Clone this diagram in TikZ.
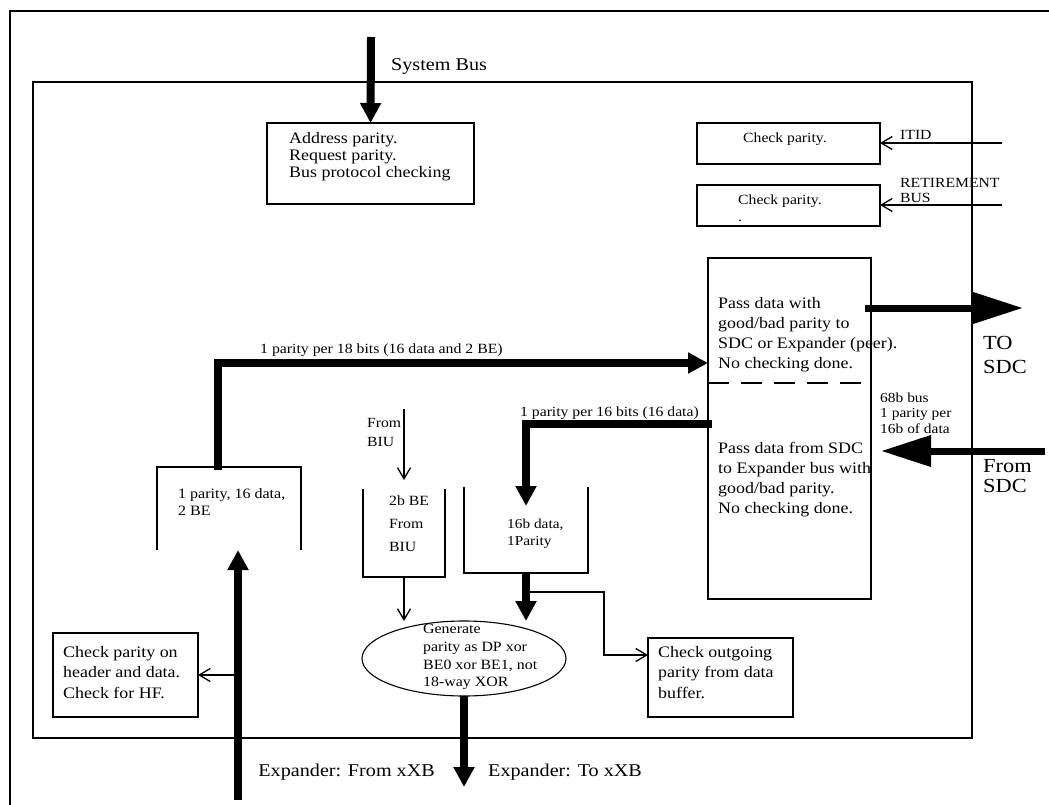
\documentclass[tikz,border=0pt]{standalone}
\usepackage{fontspec}
\setmainfont{Liberation Serif}[FakeStretch=1.12]
\usetikzlibrary{arrows.meta, positioning, calc, shapes.geometric}
\newcommand{\sz}[2]{\fontsize{#1}{#2}\selectfont}
\tikzset{
  frame/.style={line width=1.7pt},
  box/.style={rectangle, draw, line width=1.7pt, inner sep=0pt, outer sep=0pt, anchor=north west},
  slot/.style={rectangle, inner sep=0pt, outer sep=0pt, anchor=north west},
  txt/.style={align=left, inner sep=0pt, anchor=north west},
  lbl/.style={inner sep=0pt, anchor=base west},
  bus/.style={line width=7.5pt, -{Triangle[length=20pt,width=20pt]}},
  bigbus/.style={line width=7pt, -{Triangle[length=50pt,width=30pt]}},
  sig/.style={line width=1.3pt, -{Straight Barb[length=11pt,width=13pt]}}
}

\begin{document}
\begin{tikzpicture}[x=1pt, y=-1pt]
\useasboundingbox (0,0) rectangle (1049,805);
\draw[frame] (10,805) -- (10,11) -- (1049,11);
\draw[frame] (33,82) rectangle (972,738);

\node[box, minimum width=207pt, minimum height=81pt] (addr) at (267,123) {};
\node[box, minimum width=183pt, minimum height=41pt] (itid) at (697,123) {};
\node[box, minimum width=183pt, minimum height=41pt] (ret) at (697,185) {};
\node[box, minimum width=163pt, minimum height=341pt] (pass) at (708,258) {};
\node[slot, minimum width=144pt, minimum height=83pt] (buf1) at (157,467) {};
\node[slot, minimum width=82pt, minimum height=88pt] (be) at (363,489) {};
\node[slot, minimum width=124pt, minimum height=86pt] (buf2) at (464,487) {};
\node[box, minimum width=145pt, minimum height=84pt] (hdr) at (53,633) {};
\node[box, minimum width=145pt, minimum height=79pt] (outb) at (648,638) {};
\node[ellipse, draw, line width=1.1pt, minimum width=204pt, minimum height=75pt, inner sep=0pt, outer sep=0pt] (gen) at (464,658.5) {};

\draw[frame] (buf1.south west) -- (buf1.north west) -- (buf1.north east) -- (buf1.south east);
\draw[frame] (be.north west) -- (be.south west) -- (be.south east) -- (be.north east);
\draw[frame] (buf2.north west) -- (buf2.south west) -- (buf2.south east) -- (buf2.north east);
\draw[frame, dash pattern=on 21pt off 12pt] ($(pass.north west)+(0,125)$) -- ($(pass.north east)+(0,125)$);

\node[lbl, font=\sz{18}{20}] (sysl) at (391,71) {System Bus};
\node[txt, font=\sz{16}{17}] (addrt) at (289,132) {Address parity.\\Request parity.\\Bus protocol checking};
\node[txt, font=\sz{14}{17}] (itidt) at (743,133) {Check parity.};
\node[txt, font=\sz{14}{17}] (rett) at (738,195) {Check parity.\\.};
\node[lbl, font=\sz{14}{15}] (itidl) at (900,140) {ITID};
\node[txt, font=\sz{14}{15}] (retl) at (900,178) {RETIREMENT\\BUS};
\node[txt, font=\sz{16}{20}] (passup) at (718,297) {Pass data with\\good/bad parity to\\SDC or Expander (peer).\\No checking done.};
\node[txt, font=\sz{16}{20}] (passdn) at (718,442) {Pass data from SDC\\to Expander bus with\\good/bad parity.\\No checking done.};
\node[txt, font=\sz{20}{24}] (tosdcl) at (983,336) {TO\\SDC};
\node[txt, font=\sz{20}{20}] (fromsdcl) at (983,459) {From\\SDC};
\node[txt, font=\sz{13.8}{15.5}] (busw) at (880,392.5) {68b bus\\1 parity per\\16b of data};
\node[lbl, font=\sz{14.1}{16}] (p18) at (260,353) {1 parity per 18 bits (16 data and 2 BE)};
\node[lbl, font=\sz{14}{16}] (p16) at (520,416) {1 parity per 16 bits (16 data)};
\node[txt, font=\sz{14.3}{17}] (buf1t) at (178,488) {1 parity, 16 data,\\2 BE};
\node[txt, font=\sz{14}{19}] (biul) at (367,418.5) {From\\BIU};
\node[txt, font=\sz{14.1}{23}] (bet) at (389,495.5) {2b BE\\From\\BIU};
\node[txt, font=\sz{13.7}{17}] (buf2t) at (507,518.5) {16b data,\\1Parity};
\node[txt, font=\sz{14.2}{17.7}] (gent) at (423,624) {Generate\\parity as DP xor\\BE0 xor BE1, not\\18-way XOR};
\node[txt, font=\sz{16}{20.5}] (hdrt) at (63,646) {Check parity on\\header and data.\\Check for HF.};
\node[txt, font=\sz{16}{20.5}] (outt) at (658,646) {Check outgoing\\parity from data\\buffer.};
\node[inner sep=0pt, anchor=base east, font=\sz{18}{20}] (exfl) at (435,776) {Expander: From xXB};
\node[lbl, font=\sz{18}{20}] (extl) at (488,776) {Expander: To xXB};

\coordinate (sysin) at (371,37);
\coordinate (itidin) at (1002,143);
\coordinate (retin) at (1002,205);
\coordinate (tosdc) at (1023,308);
\coordinate (fromsdc) at (1045,451);
\coordinate (biuin) at (404,409);
\coordinate (exfrom) at (238,800);
\coordinate (exto) at (464,787);

\draw[bus, line width=8pt] (sysin) -- (addr.north);
\draw[sig] (itidin) -- (itid.east |- itidin);
\draw[sig] (retin) -- (ret.east |- retin);
\draw[bigbus] ($(pass.east |- tosdc)+(-6,0)$) -- (tosdc);
\draw[bigbus] (fromsdc) -- ($(pass.east |- fromsdc)+(10,0)$);
\draw[bus] ([xshift=61pt,yshift=-3pt]buf1.north west) |- ([yshift=65.5pt]pass.west);
\draw[bus] ([xshift=4pt,yshift=4.5pt]pass.west) -| ([yshift=-19pt]buf2.north);
\draw[sig] (biuin) -- ([yshift=9pt]be.north);
\draw[sig] (be.south) -- (be.south |- gen.north);
\draw[bus] (buf2.south) -- (buf2.south |- gen.north);
\draw[sig] ([yshift=-19pt]buf2.south) -| ([xshift=-44pt,yshift=22.5pt]outb.west) -- ([yshift=22.5pt]outb.west);
\draw[bus] (exfrom) -- ([xshift=9pt]buf1.south);
\draw[sig] (exfrom |- hdr.east) -- (hdr.east);
\draw[bus] (gen.south) -- (exto);
\end{tikzpicture}
\end{document}
